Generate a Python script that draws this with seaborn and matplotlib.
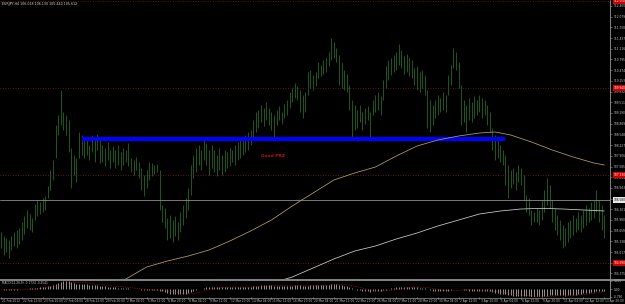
import numpy as np
import pandas as pd
import matplotlib
matplotlib.use("Agg")
import matplotlib.pyplot as plt
from matplotlib.transforms import blended_transform_factory
import seaborn as sns

# ---------------- data ----------------
bar_high = [
    105.62, 105.50, 105.44, 105.38, 105.50, 105.62, 105.68, 105.74, 105.92, 106.10,
    106.28, 106.16, 106.04, 106.46, 106.58, 106.52, 106.64, 106.70, 107.00, 107.48,
    107.78, 108.83, 109.13, 109.88, 109.22, 109.13, 108.98, 108.14, 107.93, 107.84,
    108.62, 108.53, 108.38, 108.44, 108.23, 108.53, 108.47, 108.56, 108.38, 108.23,
    108.14, 108.32, 108.08, 108.20, 108.08, 108.23, 108.02, 108.14, 108.08, 108.29,
    107.84, 107.78, 107.87, 107.72, 107.54, 107.33, 107.48, 107.72, 107.69, 107.63,
    107.66, 107.48, 106.43, 106.34, 106.04, 106.13, 105.98, 106.10, 105.92, 106.22,
    106.43, 106.64, 106.94, 107.63, 107.93, 108.14, 108.23, 108.08, 108.47, 108.29,
    108.08, 108.23, 108.08, 107.93, 108.14, 107.93, 108.08, 108.02, 108.14, 108.08,
    108.23, 108.32, 108.38, 108.44, 108.53, 108.62, 108.68, 108.98, 109.22, 109.28,
    109.43, 109.34, 109.52, 109.34, 109.22, 109.13, 109.28, 109.40, 109.22, 109.46,
    109.58, 109.82, 109.94, 110.09, 110.00, 109.88, 109.73, 109.82, 110.42, 110.48,
    110.33, 110.42, 110.72, 110.63, 110.78, 110.84, 111.02, 111.44, 111.32, 111.14,
    110.93, 110.72, 110.48, 110.36, 110.03, 109.58, 109.43, 109.28, 109.43, 109.22,
    109.34, 109.40, 109.22, 109.58, 109.73, 109.82, 109.70, 110.18, 110.60, 110.78,
    110.84, 110.93, 111.02, 111.26, 111.08, 110.90, 110.96, 110.84, 110.78, 110.54,
    110.60, 110.42, 110.48, 110.33, 109.88, 109.58, 109.43, 109.58, 109.73, 109.64,
    109.82, 109.73, 110.33, 110.63, 111.14, 111.02, 110.72, 110.03, 109.58, 109.43,
    109.64, 109.52, 109.70, 109.58, 109.73, 109.64, 109.58, 109.43, 109.22, 108.74,
    108.53, 108.38, 108.23, 108.08, 107.93, 107.63, 107.48, 107.54, 107.42, 107.63,
    107.54, 107.33, 106.73, 106.64, 106.28, 106.22, 106.34, 106.28, 106.58, 106.88,
    107.24, 107.03, 106.58, 106.34, 106.13, 105.98, 105.83, 105.74, 105.92, 105.98,
    106.13, 106.04, 106.22, 106.13, 106.28, 106.43, 106.34, 106.52, 106.58, 106.88,
    106.58, 106.43, 106.13,
]
bar_low = [
    105.14, 104.93, 105.02, 104.84, 105.08, 105.20, 105.14, 105.26, 105.38, 105.56,
    105.74, 105.68, 105.62, 105.98, 106.10, 106.16, 106.22, 106.28, 106.64, 106.88,
    107.18, 107.84, 108.53, 108.83, 108.68, 108.53, 108.02, 106.94, 107.33, 107.12,
    107.84, 107.93, 107.84, 107.93, 107.78, 108.02, 107.72, 108.08, 107.69, 107.72,
    107.60, 107.78, 107.54, 107.72, 107.54, 107.63, 107.48, 107.63, 107.72, 107.60,
    107.42, 107.33, 107.48, 107.24, 106.88, 106.70, 106.94, 107.18, 107.30, 107.36,
    107.42, 106.28, 105.92, 105.74, 105.38, 105.44, 105.32, 105.50, 105.38, 105.62,
    105.83, 106.04, 106.28, 106.73, 107.24, 107.42, 107.63, 107.48, 107.78, 107.63,
    107.33, 107.54, 107.42, 107.30, 107.48, 107.33, 107.42, 107.54, 107.60, 107.72,
    107.63, 107.78, 107.84, 107.93, 108.02, 108.08, 108.23, 108.38, 108.62, 108.74,
    108.92, 108.80, 108.98, 108.83, 108.68, 108.47, 108.83, 108.98, 108.86, 109.04,
    109.13, 109.34, 109.52, 109.64, 109.58, 109.22, 109.04, 109.22, 109.73, 109.94,
    109.88, 110.00, 110.24, 110.30, 110.36, 110.42, 110.60, 110.78, 110.84, 110.72,
    110.03, 109.94, 109.88, 109.82, 109.28, 108.38, 108.68, 108.74, 108.92, 108.68,
    108.86, 108.98, 108.44, 109.13, 109.22, 109.28, 109.13, 109.58, 109.94, 110.18,
    110.33, 110.42, 110.48, 110.63, 110.54, 110.36, 110.42, 110.30, 110.24, 110.03,
    109.88, 109.82, 109.94, 109.73, 108.74, 108.62, 108.83, 109.04, 109.13, 109.22,
    109.28, 109.22, 109.73, 110.03, 110.54, 110.48, 109.94, 108.83, 108.92, 108.62,
    108.98, 108.92, 109.04, 109.13, 109.22, 109.04, 109.13, 108.83, 108.62, 108.08,
    107.78, 107.84, 107.72, 107.63, 107.03, 106.64, 106.94, 107.06, 106.88, 107.12,
    107.03, 106.58, 106.22, 106.13, 105.83, 105.92, 105.92, 105.83, 105.98, 106.22,
    106.43, 106.34, 105.92, 105.68, 105.53, 105.38, 105.14, 105.20, 105.32, 105.44,
    105.53, 105.62, 105.68, 105.62, 105.74, 105.83, 105.92, 105.98, 106.04, 106.22,
    105.92, 105.68, 105.44,
]

time_labels = [
    "21 Feb 2012", "22 Feb 12:00", "23 Feb 20:00", "27 Feb 04:00", "28 Feb 12:00",
    "29 Feb 20:00", "2 Mar 04:00", "5 Mar 12:00", "6 Mar 20:00", "8 Mar 04:00",
    "9 Mar 12:00", "12 Mar 20:00", "14 Mar 04:00", "15 Mar 12:00", "16 Mar 20:00",
    "20 Mar 04:00", "21 Mar 12:00", "22 Mar 20:00", "26 Mar 04:00", "27 Mar 12:00",
    "28 Mar 20:00", "30 Mar 04:00", "2 Apr 12:00", "3 Apr 20:00", "5 Apr 04:00",
    "6 Apr 12:00", "9 Apr 20:00", "11 Apr 04:00", "12 Apr 12:00", "13 Apr 20:00",
]
time_label_bars = list(range(0, 240, 8))[:len(time_labels)]

ma_slow_bar = [46, 56, 64, 72, 80, 88, 96, 104, 112, 120, 128, 136, 144, 152, 160,
               168, 176, 184, 190, 196, 204, 212, 220, 228, 232]
ma_slow_val = [104.12, 104.57, 104.75, 104.90, 105.08, 105.35, 105.65, 105.98, 106.40,
               106.79, 107.18, 107.39, 107.57, 107.90, 108.20, 108.38, 108.50, 108.59,
               108.62, 108.53, 108.32, 108.08, 107.87, 107.69, 107.63]
ma_long_bar = [107, 112, 120, 128, 136, 144, 152, 160, 168, 176, 184, 192, 200, 208,
               216, 224, 232]
ma_long_val = [104.15, 104.27, 104.54, 104.81, 105.05, 105.20, 105.41, 105.59, 105.80,
               105.98, 106.16, 106.25, 106.31, 106.33, 106.31, 106.28, 106.25]

red_levels = [112.55, 109.94, 107.33, 104.69]
grey_level = 106.58
blue_level = 108.41
blue_bars = [31, 194]
zone_text = "Good PRZ"
zone_text_pos = [100, 107.90]

price_ticks = [112.400, 112.079, 111.758, 111.437, 111.116, 110.795, 110.474, 110.153,
               109.832, 109.511, 109.190, 108.869, 108.548, 108.227, 107.906, 107.585,
               107.264, 106.943, 106.622, 106.301, 105.980, 105.659, 105.338, 105.017,
               104.696, 104.375]
header = "EURJPY,H4 106.018 106.130 105.440 105.612"

# ---------------- figure ----------------
sns.set_style("dark", {"axes.facecolor": "black", "figure.facecolor": "black"})
plt.rcParams['font.family'] = ['DejaVu Sans']

W, H = 625, 304
fig = plt.figure(figsize=(W / 100, H / 100), dpi=100)
fig.patch.set_facecolor("black")

def fx(px):
    return px / W

def fy(py):
    return 1 - py / H

ax = fig.add_axes([0, fy(279), fx(610), 279 / H])
axm = fig.add_axes([0, fy(297), fx(610), 16 / H], sharex=ax)
for a in (ax, axm):
    a.set_facecolor("black")
    for s in a.spines.values():
        s.set_visible(False)
    a.grid(False)

n = len(bar_high)
idx = np.arange(n)
df = pd.DataFrame({"bar": idx, "high": bar_high, "low": bar_low})

# price bars
ax.vlines(df["bar"], df["low"], df["high"], color="#2f8a2f", linewidth=0.45)

# horizontal levels
for lv in red_levels:
    ax.axhline(lv, color="#8c1818", linewidth=0.6, linestyle=(0, (1, 2)))
ax.axhline(grey_level, color="#8c8c8c", linewidth=0.6)
ax.hlines(blue_level, blue_bars[0], blue_bars[1], color="#0000ff", linewidth=3.0)
ax.text(zone_text_pos[0], zone_text_pos[1], zone_text, color="#c81010",
        fontsize=3.2, fontweight="bold", ha="left", va="center")

# moving averages
sns.lineplot(x=ma_slow_bar, y=ma_slow_val, ax=ax, color="#b3a165", linewidth=0.55)
sns.lineplot(x=ma_long_bar, y=ma_long_val, ax=ax, color="#cfcfcf", linewidth=0.55)

ax.set_xlim(-0.4, 234.2)
ax.set_ylim(104.21, 112.58)

# right price scale
ax.yaxis.tick_right()
ax.set_yticks(price_ticks)
ax.set_yticklabels([f"{v:.3f}" for v in price_ticks])
ax.tick_params(axis="y", colors="#9a9a9a", labelcolor="#c8c8c8", labelsize=2.1,
               length=1.5, width=0.4, pad=1.2)
ax.tick_params(axis="x", bottom=False, labelbottom=False)

tr = blended_transform_factory(ax.transAxes, ax.transData)
for lv in red_levels:
    ax.text(1.006, lv, f"{lv:.3f}", transform=tr, fontsize=2.1, color="white",
            va="center", ha="left", clip_on=False,
            bbox=dict(boxstyle="square,pad=0.25", fc="#d00000", ec="none"))
ax.text(1.006, grey_level, f"{grey_level:.3f}", transform=tr, fontsize=2.1,
        color="black", va="center", ha="left", clip_on=False,
        bbox=dict(boxstyle="square,pad=0.25", fc="#e8e8e8", ec="none"))

# MACD subwindow (computed from the bars, scaled to its own min/max like the terminal)
mid = (df["high"] + df["low"]) / 2
ema_fast = mid.ewm(span=12, adjust=False).mean()
ema_slow = mid.ewm(span=26, adjust=False).mean()
macd = ema_fast - ema_slow
signal = macd.rolling(9, min_periods=1).mean()
axm.vlines(idx, 0, macd, color="#bdbdbd", linewidth=0.55)
sns.lineplot(x=idx, y=signal.values, ax=axm, color="#c01818", linewidth=0.5,
             linestyle=(0, (1, 1.5)))
mmax, mmin = float(macd.max()), float(macd.min())
axm.set_ylim(mmin, mmax)
axm.yaxis.tick_right()
axm.set_yticks([mmax, 0.0, mmin])
axm.set_yticklabels([f"{mmax:.3f}", "0.00", f"{mmin:.3f}"])
axm.tick_params(axis="y", colors="#9a9a9a", labelcolor="#c8c8c8", labelsize=2.1,
                length=1.5, width=0.4, pad=1.2)
axm.tick_params(axis="x", bottom=False, labelbottom=False)
axm.set_xlabel("")
axm.set_ylabel("")
ax.set_xlabel("")
ax.set_ylabel("")
macd_header = f"MACD(12,26,9) {macd.iloc[-1]:.4f} {signal.iloc[-1]:.4f}"
axm.text(0.003, 0.97, macd_header, transform=axm.transAxes, fontsize=2.1,
         color="#c8c8c8", ha="left", va="top")

# time labels
ttr = blended_transform_factory(axm.transData, fig.transFigure)
for b, lab in zip(time_label_bars, time_labels):
    fig.text(b + 0.4, fy(301), lab, transform=ttr, fontsize=2.1, color="#c8c8c8",
             ha="left", va="center")
    fig.lines.append(plt.Line2D([b, b], [fy(297), fy(299)], transform=ttr,
                                color="#9a9a9a", linewidth=0.4))

# frame lines (separators and price-scale edge)
frame = "#9a9a9a"
fig.lines.append(plt.Line2D([0, 1], [fy(280), fy(280)], transform=fig.transFigure,
                            color=frame, linewidth=1.2))
fig.lines.append(plt.Line2D([0, fx(610)], [fy(297.5), fy(297.5)], transform=fig.transFigure,
                            color=frame, linewidth=0.5))
fig.lines.append(plt.Line2D([fx(610), fx(610)], [fy(297.5), 1], transform=fig.transFigure,
                            color=frame, linewidth=0.6))

fig.text(fx(2), fy(3.5), header, fontsize=2.3, color="#d8d8d8", ha="left", va="center")

fig.savefig("out.png", dpi=100, facecolor="black")
